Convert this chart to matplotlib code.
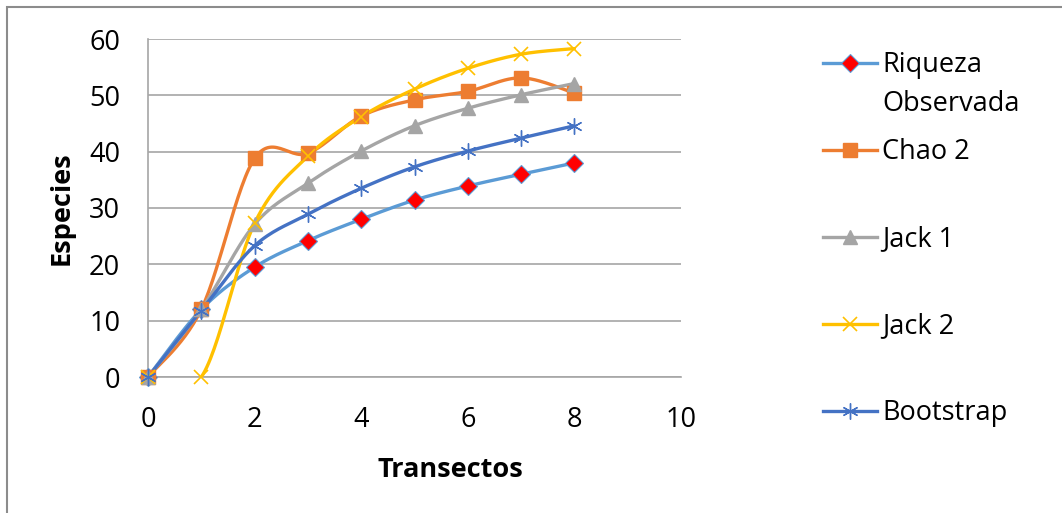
import numpy as np
import matplotlib
matplotlib.use("Agg")
import matplotlib.pyplot as plt
from matplotlib.lines import Line2D
from matplotlib.patches import Rectangle

transectos = [0, 1, 2, 3, 4, 5, 6, 7, 8]
riqueza = [0, 12, 19.5, 24.2, 28.0, 31.4, 33.9, 36.0, 38.0]
chao2 = [0, 12, 38.8, 39.7, 46.3, 49.2, 50.7, 53.1, 50.4]
jack1 = [0, 12, 27.1, 34.4, 40.1, 44.6, 47.7, 50.1, 52.1]
jack2 = [0, 0, 27.3, 39.2, 46.2, 51.1, 54.8, 57.3, 58.3]
bootstrap = [0, 11.8, 23.3, 28.9, 33.5, 37.3, 40.1, 42.4, 44.6]

labels = [["Riqueza", "Observada"], ["Chao 2"], ["Jack 1"], ["Jack 2"], ["Bootstrap"]]
yticks = [0, 10, 20, 30, 40, 50, 60]
xticks = [0, 2, 4, 6, 8, 10]

FONT = "Open Sans"
plt.rcParams['font.family'] = [FONT, 'DejaVu Sans']


def smooth(x, y, n=30):
    # Excel-style smoothed line (Catmull-Rom bezier)
    x = np.asarray(x, float)
    y = np.asarray(y, float)
    P = np.column_stack([x, y])
    out = [P[0]]
    for i in range(len(P) - 1):
        p0 = P[i - 1] if i > 0 else P[i]
        p1 = P[i]
        p2 = P[i + 1]
        p3 = P[i + 2] if i + 2 < len(P) else P[i + 1]
        c1 = p1 + (p2 - p0) / 6.0
        c2 = p2 - (p3 - p1) / 6.0
        t = np.linspace(0, 1, n)[1:, None]
        seg = ((1 - t) ** 3) * p1 + 3 * ((1 - t) ** 2) * t * c1 + 3 * (1 - t) * t ** 2 * c2 + t ** 3 * p2
        out.extend(seg)
    out = np.array(out)
    return out[:, 0], out[:, 1]


W, H = 1062, 513
fig = plt.figure(figsize=(W / 100, H / 100), dpi=100)
ax = fig.add_axes([148 / W, 1 - 377 / H, (681 - 148) / W, (377 - 39) / H])

series = [
    (riqueza, "#5B9BD5", dict(marker="D", markersize=9, markerfacecolor="#FF0000", markeredgecolor="#5B9BD5", markeredgewidth=0.8)),
    (chao2, "#ED7D31", dict(marker="s", markersize=10.5, markerfacecolor="#ED7D31", markeredgecolor="#ED7D31")),
    (jack1, "#A5A5A5", dict(marker="^", markersize=10.5, markerfacecolor="#A5A5A5", markeredgecolor="#A5A5A5")),
    (jack2, "#FFC000", dict(marker="x", markersize=10.5, markeredgecolor="#FFC000", markeredgewidth=1.2)),
    (bootstrap, "#4472C4", dict(marker=(6, 2, 0), markersize=11.5, markeredgecolor="#4472C4", markeredgewidth=1.0)),
]

for ys, col, mk in series:
    sx, sy = smooth(transectos, ys)
    ax.plot(sx, sy, color=col, lw=2.4, solid_capstyle="round", zorder=3)
    ax.plot(transectos, ys, linestyle="none", zorder=4, clip_on=False, **mk)

ax.set_xlim(0, 10)
ax.set_ylim(0, 60)
ax.set_yticks(yticks)
ax.set_xticks(xticks)
ax.tick_params(length=0, labelsize=19.5)
ax.tick_params(axis="x", pad=21)
ax.tick_params(axis="y", pad=20)
ax.yaxis.grid(True, color="#A6A6A6", lw=1.2)
ax.set_axisbelow(True)
for s in ["top", "right"]:
    ax.spines[s].set_visible(False)
for s in ["left", "bottom"]:
    ax.spines[s].set_color("#A6A6A6")
    ax.spines[s].set_linewidth(1.2)

fig.text(62 / W, 1 - 208 / H, "Especies", rotation=90, fontsize=19.5, fontweight="bold",
         ha="center", va="center")
fig.text(450 / W, 1 - 470 / H, "Transectos", fontsize=19.5, fontweight="bold",
         ha="center", va="center")

# legend (manual)
leg_y = [63, 150, 237, 324, 411]
for (ys, col, mk), lab, yy in zip(series, labels, leg_y):
    fy = 1 - yy / H
    fig.add_artist(Line2D([823 / W, 877 / W], [fy, fy], color=col, lw=2.4,
                          transform=fig.transFigure))
    fig.add_artist(Line2D([850 / W], [fy], linestyle="none", transform=fig.transFigure, **mk))
    for k, line in enumerate(lab):
        fig.text(882 / W, 1 - (yy + 2 + 39 * k) / H, line, fontsize=19.5, ha="left", va="center")

# figure border
fig.add_artist(Rectangle((7 / W, -0.1), 1.2, 1 - 7 / H + 0.1, transform=fig.transFigure,
                         fill=False, edgecolor="#8C8C8C", lw=1.5))

fig.savefig("out.png", dpi=100)
